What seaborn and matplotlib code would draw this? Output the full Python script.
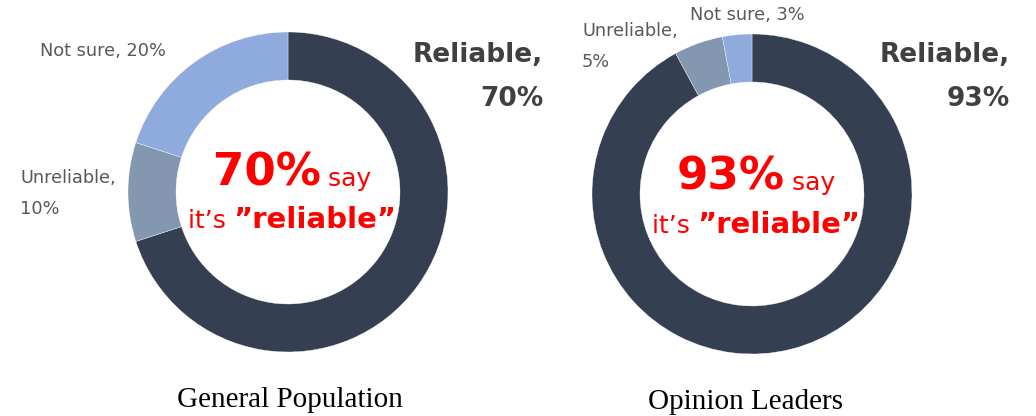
import matplotlib
matplotlib.use("Agg")
import matplotlib.pyplot as plt
import seaborn as sns

# Survey results: share of respondents rating the information as reliable
categories = ["Reliable", "Unreliable", "Not sure"]
general_population = [70, 10, 20]
opinion_leaders = [93, 5, 3]
group_titles = ["General Population", "Opinion Leaders"]

sns.set_theme(style="white")
plt.rcParams["font.family"] = ["DejaVu Sans"]

palette = sns.color_palette(["#343F52", "#8497B0", "#8FAADC"])

W, H = 1036, 416
fig = plt.figure(figsize=(W / 100, H / 100), dpi=100)
fig.patch.set_facecolor("white")

RED = "#FF0000"
LABEL_GREY = "#595959"
DARK_GREY = "#404040"
SMALL = 12.8


def fx(x):
    return x / W


def fy(y):
    return 1 - y / H


def donut(values, left, top, size):
    ax = fig.add_axes([fx(left), fy(top + size), size / W, size / H])
    ax.pie(values, colors=palette, startangle=90, counterclock=False,
           radius=1.0, wedgeprops=dict(width=0.3, edgecolor="white", linewidth=0.25))
    ax.set_xlim(-1, 1)
    ax.set_ylim(-1, 1)
    ax.set_aspect("auto")
    ax.axis("off")
    return ax


donut(general_population, 128, 32, 320)
donut(opinion_leaders, 592, 34, 320)

fig.canvas.draw()
renderer = fig.canvas.get_renderer()


def centered_line(parts, cx, baseline):
    """Lay out differently styled text pieces on one baseline, centred on cx."""
    texts = []
    for s, kw in parts:
        t = fig.text(0, fy(baseline), s, va="baseline", ha="left", color=RED, **kw)
        texts.append(t)
    widths = [t.get_window_extent(renderer).width for t in texts]
    x = cx - sum(widths) / 2
    for t, w in zip(texts, widths):
        t.set_x(fx(x))
        x += w


def centre_text(pct, cx, y1, y2):
    centered_line([(f"{pct}%", dict(fontsize=32.5, fontweight="bold")),
                   (" say", dict(fontsize=18))], cx, y1)
    centered_line([("it\u2019s ", dict(fontsize=18)),
                   ("\u201dreliable\u201d", dict(fontsize=21, fontweight="bold"))], cx, y2)


centre_text(general_population[0], 292, 186, 228)
centre_text(opinion_leaders[0], 756, 190, 233)

# Reliable labels (top right of each ring)
for x_right, vals in [(543, general_population), (1010, opinion_leaders)]:
    fig.text(fx(x_right), fy(62), f"{categories[0]},", ha="right", va="baseline",
             fontsize=19, fontweight="bold", color=DARK_GREY)
    fig.text(fx(x_right), fy(106), f"{vals[0]}%", ha="right", va="baseline",
             fontsize=19, fontweight="bold", color=DARK_GREY)

# Smaller slice labels
fig.text(fx(40), fy(56), f"{categories[2]}, {general_population[2]}%", ha="left",
         va="baseline", fontsize=SMALL, color=LABEL_GREY)
fig.text(fx(20), fy(183), f"{categories[1]},", ha="left", va="baseline",
         fontsize=SMALL, color=LABEL_GREY)
fig.text(fx(20), fy(214), f"{general_population[1]}%", ha="left", va="baseline",
         fontsize=SMALL, color=LABEL_GREY)

fig.text(fx(690), fy(20), f"{categories[2]}, {opinion_leaders[2]}%", ha="left",
         va="baseline", fontsize=SMALL, color=LABEL_GREY)
fig.text(fx(582), fy(36), f"{categories[1]},", ha="left", va="baseline",
         fontsize=SMALL, color=LABEL_GREY)
fig.text(fx(582), fy(67), f"{opinion_leaders[1]}%", ha="left", va="baseline",
         fontsize=SMALL, color=LABEL_GREY)

# Group titles
fig.text(fx(290), fy(407), group_titles[0], ha="center", va="baseline",
         fontsize=21, family="Liberation Serif", color="black")
fig.text(fx(746), fy(409), group_titles[1], ha="center", va="baseline",
         fontsize=21, family="Liberation Serif", color="black")

fig.savefig("out.png", dpi=100, facecolor="white")
